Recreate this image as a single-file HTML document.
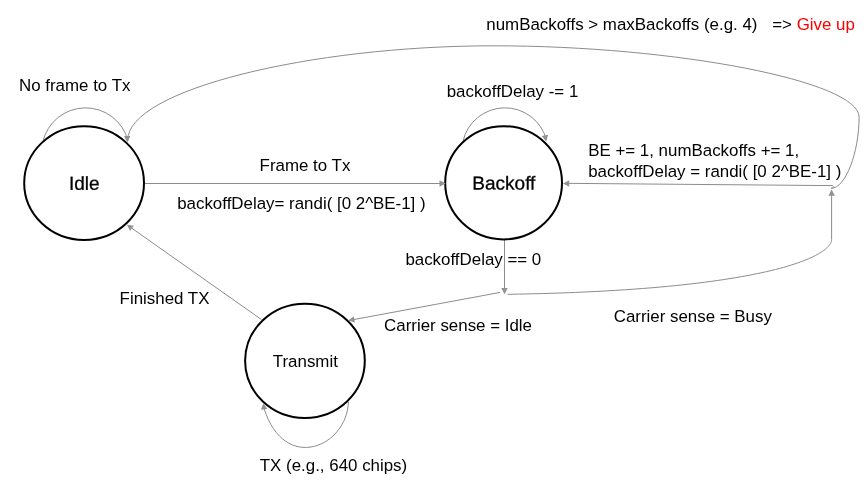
<!DOCTYPE html>
<html lang="en">
<head>
<meta charset="utf-8">
<title>CSMA/CA state diagram</title>
<style>
html,body{margin:0;padding:0;background:#fff;}
body{width:867px;height:484px;overflow:hidden;font-family:"Liberation Sans",Arial,sans-serif;}
#stage{width:867px;height:484px;will-change:transform;}
svg{display:block;}
</style>
</head>
<body>
<div id="stage">
<svg width="867" height="484" viewBox="0 0 867 484">
<rect width="867" height="484" fill="#ffffff"/>
<g fill="none" stroke="#8c8c8c" stroke-width="1">
<path d="M145,183.5 L440,183.5"/>
<path d="M831.2,188.3 C833.6,188.2 833.8,186.0 832.6,185.6 L568,183.35"/>
<path d="M831.2,188.3 C845.5,188.3 859.1,152.6 859.1,117.0 C859.1,81.4 676.3,45.8 493.4,45.8 C310.5,45.8 127.8,90 127.8,140"/>
<path d="M507.6,294.3 C766.5,290.3 831.6,256.0 831.6,239.5 L831.6,195"/>
<path d="M504.5,240 L504.5,289"/>
<path d="M500.2,292.4 L353,319.7"/>
<path d="M261.4,319.5 L131.2,227.8"/>
<path d="M42.8,142.0 A43.8,43.6 0 0 1 128.0,140.7"/>
<path d="M463,141.2 A43,43 0 0 1 546.5,139.9"/>
<path d="M348.4,402 C346.9,447 284.7,473.6 264.1,408.6"/>
</g>
<g fill="#ffffff" stroke="#000000" stroke-width="2">
<ellipse cx="84.1" cy="183.1" rx="59.9" ry="56.9"/>
<ellipse cx="503.6" cy="182.8" rx="58.4" ry="56.6"/>
<ellipse cx="304.95" cy="360.85" rx="59.85" ry="57.05"/>
</g>
<g fill="#929292" stroke="none">
<polygon points="445.7,183.5 439.5,186.8 439.5,180.2"/>
<polygon points="563.0,183.4 569.2,180.3 569.2,186.8"/>
<polygon points="831.6,189.5 834.9,195.7 828.4,195.7"/>
<polygon points="504.5,294.2 501.2,288.0 507.8,288.0"/>
<polygon points="348.2,320.5 353.7,316.2 354.9,322.6"/>
<polygon points="126.9,224.8 133.8,225.7 130.1,231.0"/>
<polygon points="127.2,142.3 124.0,136.1 130.4,136.1"/>
<polygon points="546.1,141.4 541.8,135.9 548.2,134.7"/>
<polygon points="263.4,403.3 267.4,409.1 260.9,409.8"/>
</g>
<g font-family="'Liberation Sans', Arial, Helvetica, sans-serif">
<text x="486.3" y="30.2" font-size="16.9" fill="#000" style="white-space:pre">numBackoffs &gt; maxBackoffs (e.g. 4)<tspan dx="0.7">   =&gt; </tspan><tspan fill="#ff0000">Give up</tspan></text>
<text x="19" y="91.3" font-size="16.9" fill="#000" style="white-space:pre">No frame to Tx</text>
<text x="259.6" y="171.3" font-size="16.9" fill="#000" style="white-space:pre">Frame to Tx</text>
<text x="177.2" y="209.4" font-size="16.9" fill="#000" style="white-space:pre">backoffDelay= randi( [0 2^BE-1] )</text>
<text x="446.7" y="96.9" font-size="16.9" fill="#000" style="white-space:pre">backoffDelay -= 1</text>
<text x="588.2" y="155.7" font-size="16.9" fill="#000" style="white-space:pre">BE += 1, numBackoffs += 1,</text>
<text x="588.2" y="176.5" font-size="16.9" fill="#000" style="white-space:pre">backoffDelay = randi( [0 2^BE-1] )</text>
<text x="405.4" y="264.7" font-size="16.9" fill="#000" style="white-space:pre">backoffDelay == 0</text>
<text x="384.1" y="330.7" font-size="16.9" fill="#000" style="white-space:pre">Carrier sense = Idle</text>
<text x="613.7" y="321.9" font-size="16.9" fill="#000" style="white-space:pre">Carrier sense = Busy</text>
<text x="119.6" y="303.9" font-size="16.9" fill="#000" style="white-space:pre">Finished TX</text>
<text x="259.8" y="470.9" font-size="16.9" fill="#000" style="white-space:pre">TX (e.g., 640 chips)</text>
<text x="272.8" y="367" font-size="16.9" fill="#000" style="white-space:pre">Transmit</text>
<text transform="translate(69.0,189.75) rotate(0.03) scale(1.012,1)" style="text-rendering:geometricPrecision" font-size="18.8" fill="#000" stroke="#000" stroke-width="0.3">Idle</text>
<text transform="translate(472.3,189.5) rotate(0.03) scale(1.012,1)" style="text-rendering:geometricPrecision" font-size="18.8" fill="#000" stroke="#000" stroke-width="0.3">Backoff</text>
</g>
</svg>
</div>
</body>
</html>
